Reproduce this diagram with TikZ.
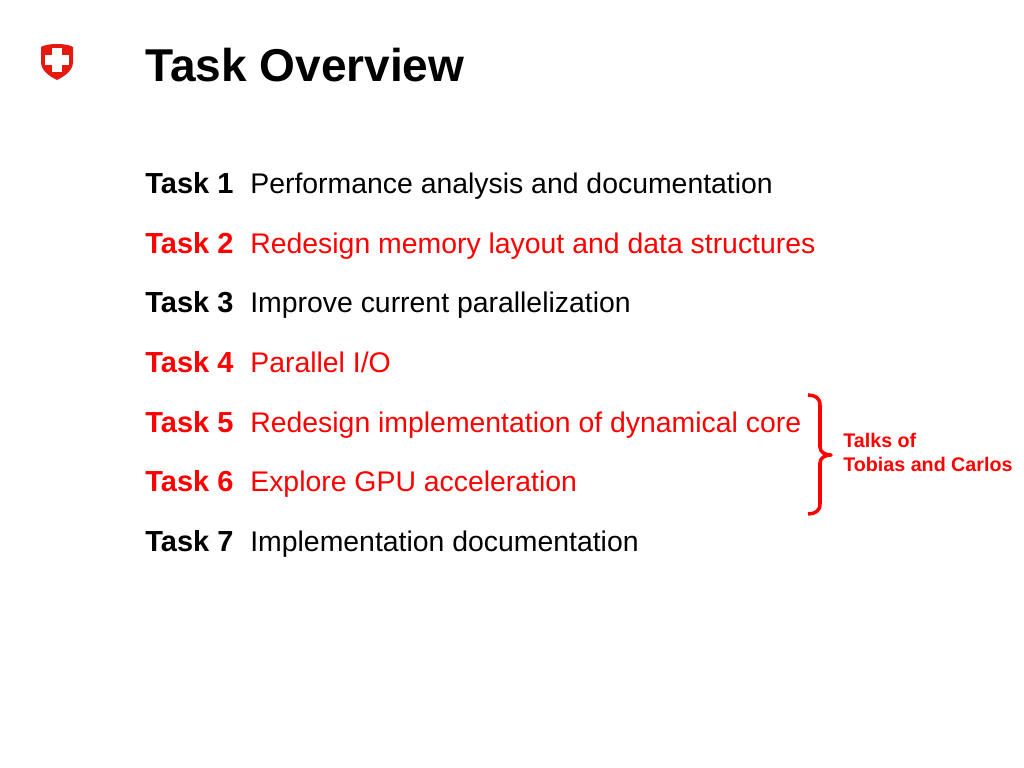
\documentclass[tikz,border=0pt]{standalone}
\usepackage{fontspec}
\setmainfont{Liberation Sans}
\definecolor{taskred}{RGB}{255,0,0}
\definecolor{shieldred}{RGB}{230,25,15}
\tikzset{
    tasklabel/.style={anchor=base west, inner sep=0pt, font=\fontsize{16.5}{20}\selectfont\bfseries},
    tasktext/.style={anchor=base west, inner sep=0pt, font=\fontsize{16.16}{20}\selectfont},
}
\begin{document}
\begin{tikzpicture}
        \useasboundingbox (0,0) rectangle (20.48,15.36);
        % logo
        \fill[shieldred] (0.82,14.42) .. controls (0.95,14.5) and (1.33,14.5) .. (1.46,14.42) -- (1.46,14.12) .. controls (1.46,13.95) and (1.3,13.84) .. (1.14,13.76) .. controls (0.98,13.84) and (0.82,13.95) .. (0.82,14.12) -- cycle;
        \fill[white] (0.9,14.06) rectangle (1.38,14.26);
        \fill[white] (1.04,13.92) rectangle (1.24,14.4);
        \node[inner sep=0pt, anchor=base west, font=\fontsize{26.2}{30}\selectfont\bfseries] (title) at (2.9,13.73) {Task Overview};
        \node[tasklabel] (task1) at (2.9,11.49) {Task 1};
        \node[tasktext] (text1) at (5,11.49) {Performance analysis and documentation};
        \node[tasklabel, text=taskred] (task2) at (2.9,10.297) {Task 2};
        \node[tasktext, text=taskred] (text2) at (5,10.297) {Redesign memory layout and data structures};
        \node[tasklabel] (task3) at (2.9,9.103) {Task 3};
        \node[tasktext] (text3) at (5,9.103) {Improve current parallelization};
        \node[tasklabel, text=taskred] (task4) at (2.9,7.91) {Task 4};
        \node[tasktext, text=taskred] (text4) at (5,7.91) {Parallel I/O};
        \node[tasklabel, text=taskred] (task5) at (2.9,6.717) {Task 5};
        \node[tasktext, text=taskred] (text5) at (5,6.717) {Redesign implementation of dynamical core};
        \node[tasklabel, text=taskred] (task6) at (2.9,5.523) {Task 6};
        \node[tasktext, text=taskred] (text6) at (5,5.523) {Explore GPU acceleration};
        \node[tasklabel] (task7) at (2.9,4.33) {Task 7};
        \node[tasktext] (text7) at (5,4.33) {Implementation documentation};
        % brace
        \draw[taskred, line width=2pt, line join=round] (16.16,7.46) .. controls (16.3,7.46) and (16.4,7.4) .. (16.4,7.26) -- (16.4,6.42) .. controls (16.4,6.32) and (16.5,6.26) .. (16.62,6.26) .. controls (16.5,6.26) and (16.4,6.2) .. (16.4,6.1) -- (16.4,5.28) .. controls (16.4,5.14) and (16.3,5.08) .. (16.16,5.08);
        \node[text=taskred, anchor=base west, inner sep=0pt, align=left, font=\fontsize{11.2}{13.66}\selectfont\bfseries] (talks) at (16.86,5.92) {Talks of\\Tobias and Carlos};
    \end{tikzpicture}
\end{document}
